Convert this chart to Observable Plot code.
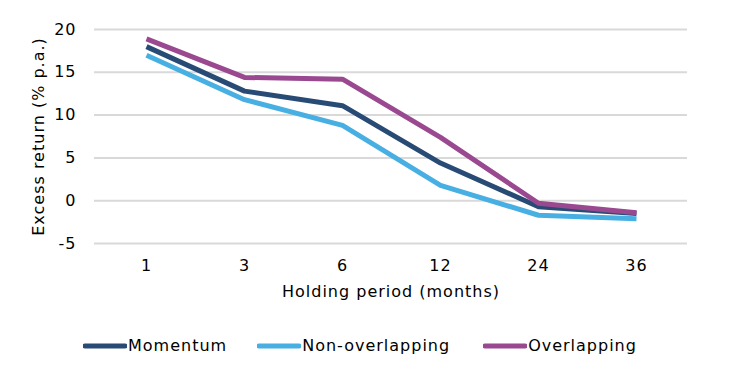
<!DOCTYPE html>
<html>
<head>
<meta charset="utf-8">
<script src="https://cdn.jsdelivr.net/npm/d3@7"></script>
<script src="https://cdn.jsdelivr.net/npm/@observablehq/plot@0.6"></script>
<style>
  html, body { margin: 0; padding: 0; background: #fff; }
  body { width: 730px; height: 382px; overflow: hidden; font-family: "DejaVu Sans", Verdana, sans-serif; }
  svg text { letter-spacing: 1px; }
  #legend { display: flex; align-items: center; margin-left: 83px; margin-top: 16px; font-size: 16px; letter-spacing: 1px; color: #000; }
  .item { display: flex; align-items: center; margin-right: 30px; }
  .item:nth-child(2) { margin-right: 33px; }
  .item svg { margin-right: 1px; }
</style>
</head>
<body>
<div id="chart"></div>
<div id="legend"></div>
<script>
const periods = ["1", "3", "6", "12", "24", "36"];
const seriesNames = ["Momentum", "Non-overlapping", "Overlapping"];
const momentum = [18.0, 12.8, 11.1, 4.4, -0.7, -1.5];
const nonOverlapping = [17.0, 11.8, 8.8, 1.8, -1.7, -2.1];
const overlapping = [18.9, 14.4, 14.2, 7.4, -0.3, -1.4];
const colors = ["#284b75", "#48afe3", "#9a4991"];
const yTicks = [-5, 0, 5, 10, 15, 20];

const values = [momentum, nonOverlapping, overlapping];
const data = [];
seriesNames.forEach((s, si) => {
  periods.forEach((p, i) => data.push({series: s, period: p, value: values[si][i]}));
});

const chart = Plot.plot({
  width: 730,
  height: 320,
  marginLeft: 94,
  marginRight: 43,
  marginTop: 29,
  marginBottom: 77,
  style: {fontFamily: "'DejaVu Sans', Verdana, sans-serif", fontSize: "16px", color: "#000", background: "#fff"},
  x: {type: "point", domain: periods, padding: 0.5, label: "Holding period (months)", labelAnchor: "center", labelArrow: "none"},
  y: {domain: [-5, 20], ticks: yTicks, label: "Excess return (% p.a.)", labelAnchor: "center", labelArrow: "none"},
  color: {domain: seriesNames, range: colors},
  marks: [
    Plot.gridY(yTicks, {stroke: "#d9d9d9", strokeOpacity: 1, strokeWidth: 2}),
    Plot.axisY({ticks: yTicks, tickFormat: d => String(d), tickSize: 0, tickPadding: 18, fontSize: 16, label: "Excess return (% p.a.)", labelAnchor: "center", labelOffset: 62, labelArrow: "none"}),
    Plot.axisX({tickSize: 0, tickPadding: 16, fontSize: 16, label: "Holding period (months)", labelAnchor: "center", labelOffset: 53, labelArrow: "none"}),
    Plot.line(data, {x: "period", y: "value", z: "series", stroke: "series", strokeWidth: 5, strokeLinejoin: "round", strokeLinecap: "butt"})
  ]
});
document.getElementById("chart").appendChild(chart);

const legend = document.getElementById("legend");
seriesNames.forEach((s, i) => {
  const item = document.createElement("div");
  item.className = "item";
  item.innerHTML = `<svg width="44" height="10"><line x1="2" y1="5" x2="42" y2="5" stroke="${colors[i]}" stroke-width="5" stroke-linecap="round"/></svg><span>${s}</span>`;
  legend.appendChild(item);
});
</script>
</body>
</html>
